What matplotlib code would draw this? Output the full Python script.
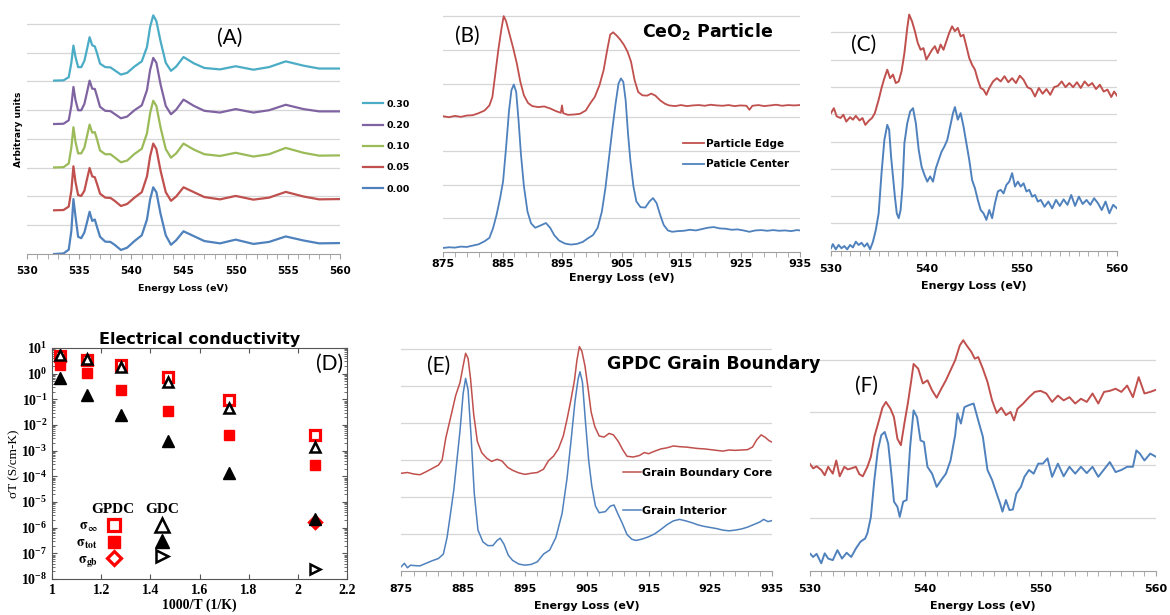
import matplotlib
matplotlib.use('Agg')
import matplotlib.pyplot as plt
from matplotlib.ticker import MultipleLocator, LogLocator, NullFormatter

plt.rcParams['font.family'] = ['DejaVu Sans']
plt.rcParams['font.weight'] = 'bold'
plt.rcParams['axes.labelweight'] = 'bold'
plt.rcParams['mathtext.fontset'] = 'stix'

RED = '#c0504d'
BLUE = '#4f81bd'
GREEN = '#9bbb59'
PURPLE = '#8064a2'
CYAN = '#4bacc6'

# ---------------- (A) O K-edge, doping series ----------------
a_energy = [532.6, 533.5, 534.0, 534.25, 534.45, 534.65, 534.9, 535.2, 535.5, 535.75,
            536.0, 536.25, 536.5, 536.7, 537.0, 537.5, 538.0, 538.4, 539.0, 539.6,
            540.3, 541.0, 541.5, 541.8, 542.1, 542.4, 542.8, 543.3, 543.8, 544.3,
            545.0, 546.0, 547.0, 548.5, 550.0, 551.7, 553.2, 554.8, 556.5, 558.0, 560.0]
a_000 = [0.0, 0.02, 0.15, 0.8, 1.91, 1.3, 0.6, 0.55, 0.75, 1.1,
         1.47, 1.15, 1.2, 0.95, 0.6, 0.43, 0.42, 0.32, 0.14, 0.22,
         0.45, 0.65, 1.2, 1.9, 2.32, 2.15, 1.4, 0.65, 0.32, 0.48,
         0.79, 0.62, 0.45, 0.37, 0.5, 0.35, 0.42, 0.61, 0.47, 0.37, 0.38]
a_005 = [1.52, 1.53, 1.65, 2.2, 3.05, 2.5, 2.05, 2.02, 2.2, 2.6,
         2.99, 2.7, 2.67, 2.45, 2.1, 1.96, 1.95, 1.85, 1.67, 1.74,
         1.96, 2.15, 2.7, 3.4, 3.84, 3.65, 2.9, 2.15, 1.85, 2.0,
         2.32, 2.15, 1.98, 1.9, 2.02, 1.89, 1.96, 2.16, 2.0, 1.9, 1.91]
a_010 = [3.01, 3.02, 3.15, 3.7, 4.41, 3.9, 3.5, 3.5, 3.7, 4.1,
         4.5, 4.22, 4.24, 4.0, 3.6, 3.47, 3.47, 3.36, 3.19, 3.25,
         3.48, 3.66, 4.2, 4.9, 5.33, 5.15, 4.4, 3.65, 3.35, 3.5,
         3.84, 3.63, 3.47, 3.41, 3.52, 3.39, 3.47, 3.69, 3.52, 3.42, 3.43]
a_020 = [4.52, 4.53, 4.65, 5.15, 5.81, 5.35, 5.0, 5.0, 5.22, 5.62,
         6.03, 5.75, 5.74, 5.5, 5.12, 4.98, 4.97, 4.87, 4.72, 4.78,
         5.0, 5.17, 5.7, 6.4, 6.82, 6.65, 5.9, 5.15, 4.86, 5.02,
         5.37, 5.15, 4.98, 4.92, 5.04, 4.92, 5.0, 5.19, 5.04, 4.96, 4.96]
a_030 = [6.03, 6.04, 6.15, 6.65, 7.25, 6.85, 6.5, 6.5, 6.72, 7.12,
         7.54, 7.26, 7.22, 7.0, 6.62, 6.5, 6.49, 6.39, 6.24, 6.3,
         6.52, 6.7, 7.2, 7.9, 8.3, 8.1, 7.4, 6.65, 6.37, 6.52,
         6.85, 6.63, 6.47, 6.42, 6.53, 6.41, 6.5, 6.7, 6.55, 6.45, 6.45]
a_labels = ['0.00', '0.05', '0.10', '0.20', '0.30']

# ---------------- (B) Ce M-edge, CeO2 particle ----------------
b_edge = [(875, 4.03), (876, 4.0), (877, 4.04), (878, 4.01), (879, 4.05), (880, 4.06),
          (881, 4.12), (882, 4.2), (882.8, 4.35), (883.3, 4.6), (883.8, 5.3), (884.3, 6.0),
          (884.8, 6.6), (885.2, 7.0), (885.6, 6.85), (886.2, 6.45), (886.8, 6.05),
          (887.4, 5.6), (888, 5.05), (888.6, 4.65), (889.3, 4.42), (890, 4.33), (891, 4.3),
          (892, 4.32), (893, 4.26), (894, 4.18), (894.8, 4.13), (895, 4.35), (895.2, 4.12),
          (896, 4.07), (897, 4.08), (898, 4.1), (899, 4.2), (899.7, 4.4), (900.5, 4.6),
          (901.3, 4.95), (902, 5.4), (902.6, 6.0), (903.1, 6.45), (903.6, 6.52),
          (904.2, 6.42), (904.8, 6.3), (905.4, 6.15), (906, 5.95), (906.6, 5.65),
          (907.2, 5.1), (907.8, 4.75), (908.5, 4.65), (909.3, 4.64), (910, 4.7),
          (910.7, 4.64), (911.5, 4.5), (912.3, 4.4), (913, 4.35), (914, 4.33), (915, 4.36),
          (916, 4.33), (917, 4.35), (918, 4.36), (919, 4.34), (920, 4.37), (921, 4.35),
          (922, 4.34), (923, 4.36), (924, 4.33), (925, 4.35), (926, 4.34), (926.5, 4.22),
          (927, 4.34), (928, 4.36), (929, 4.33), (930, 4.35), (931, 4.37), (932, 4.34),
          (933, 4.36), (934, 4.35), (935, 4.36)]
b_center = [(875, 0.12), (876, 0.14), (877, 0.13), (878, 0.16), (879, 0.15), (880, 0.19),
            (881, 0.23), (882, 0.32), (882.8, 0.42), (883.4, 0.7), (884, 1.1), (884.6, 1.6),
            (885.1, 2.1), (885.6, 3.1), (886.1, 4.2), (886.5, 4.8), (886.9, 4.97),
            (887.3, 4.75), (887.7, 3.9), (888.1, 2.9), (888.6, 1.95), (889.2, 1.2),
            (889.8, 0.85), (890.5, 0.72), (891.3, 0.78), (892.3, 0.86), (893, 0.72),
            (893.7, 0.5), (894.5, 0.34), (895.5, 0.25), (896.5, 0.22), (897.5, 0.24),
            (898.5, 0.3), (899.3, 0.4), (900.2, 0.5), (901, 0.72), (901.7, 1.2), (902.3, 1.9),
            (902.9, 2.8), (903.5, 3.7), (904, 4.4), (904.5, 5.0), (904.9, 5.15), (905.3, 5.05),
            (905.7, 4.5), (906.1, 3.5), (906.5, 2.7), (907, 1.95), (907.5, 1.5), (908.2, 1.33),
            (909, 1.32), (909.7, 1.5), (910.3, 1.6), (910.9, 1.45), (911.5, 1.1), (912.1, 0.8),
            (912.8, 0.64), (913.5, 0.6), (914.5, 0.62), (915.5, 0.63), (916.5, 0.66),
            (917.5, 0.64), (918.5, 0.68), (919.5, 0.72), (920.5, 0.74), (921.5, 0.7),
            (922.5, 0.69), (923.5, 0.66), (924.5, 0.67), (925.5, 0.64), (926.5, 0.6),
            (927.5, 0.64), (928.5, 0.65), (929.5, 0.63), (930.5, 0.65), (931.5, 0.63),
            (932.5, 0.64), (933.5, 0.62), (934.5, 0.65), (935, 0.64)]

# ---------------- (C) O K-edge, CeO2 particle ----------------
c_edge = [(530.0, 5.04), (530.3, 5.22), (530.6, 4.92), (531.0, 4.86), (531.3, 4.98),
          (531.6, 4.73), (532.0, 4.89), (532.3, 4.8), (532.6, 4.94), (533.0, 4.77),
          (533.3, 4.86), (533.6, 4.61), (534.0, 4.77), (534.3, 4.86), (534.6, 5.04),
          (535.0, 5.53), (535.3, 5.96), (535.6, 6.32), (535.9, 6.63), (536.2, 6.32),
          (536.5, 6.45), (536.8, 6.14), (537.1, 6.2), (537.4, 6.57), (537.7, 7.24),
          (538.0, 8.16), (538.2, 8.65), (538.5, 8.4), (538.8, 8.04), (539.1, 7.61),
          (539.4, 7.36), (539.7, 7.42), (540.0, 7.0), (540.3, 7.18), (540.6, 7.36),
          (540.9, 7.49), (541.2, 7.24), (541.5, 7.55), (541.8, 7.36), (542.1, 7.67),
          (542.4, 7.98), (542.7, 8.22), (543.0, 8.04), (543.3, 8.16), (543.6, 7.85),
          (543.9, 7.91), (544.2, 7.49), (544.5, 7.06), (544.8, 6.81), (545.1, 6.63),
          (545.4, 6.26), (545.7, 5.96), (546.0, 5.9), (546.3, 5.71), (546.6, 5.96),
          (547.0, 6.2), (547.4, 6.32), (547.8, 6.2), (548.2, 6.39), (548.6, 6.17),
          (549.0, 6.32), (549.4, 6.14), (549.8, 6.41), (550.2, 6.26), (550.6, 5.99),
          (551.0, 5.92), (551.4, 5.65), (551.8, 5.96), (552.2, 5.75), (552.6, 5.92),
          (553.0, 5.71), (553.4, 5.99), (553.8, 6.04), (554.2, 6.2), (554.6, 5.99),
          (555.0, 6.14), (555.4, 5.99), (555.8, 6.17), (556.2, 5.96), (556.6, 6.2),
          (557.0, 6.04), (557.4, 6.14), (557.8, 5.92), (558.2, 6.08), (558.6, 5.83),
          (559.0, 5.9), (559.4, 5.63), (559.7, 5.83), (560.0, 5.68)]
c_center = [(530.0, 0.09), (530.2, 0.24), (530.5, 0.05), (530.8, 0.21), (531.1, 0.09),
            (531.4, 0.17), (531.7, 0.05), (532.0, 0.21), (532.3, 0.12), (532.6, 0.33),
            (532.9, 0.21), (533.2, 0.29), (533.5, 0.15), (533.8, 0.27), (534.1, 0.05),
            (534.4, 0.33), (534.7, 0.76), (535.0, 1.37), (535.3, 2.84), (535.6, 4.06),
            (535.9, 4.61), (536.1, 4.43), (536.3, 3.45), (536.5, 2.72), (536.7, 1.98),
            (536.9, 1.37), (537.1, 1.19), (537.3, 1.49), (537.5, 2.35), (537.7, 3.94),
            (538.0, 4.67), (538.3, 5.1), (538.6, 5.22), (538.9, 4.67), (539.2, 3.69),
            (539.5, 3.08), (539.8, 2.78), (540.1, 2.53), (540.4, 2.72), (540.7, 2.53),
            (541.0, 3.02), (541.3, 3.33), (541.6, 3.63), (541.9, 3.82), (542.2, 4.06),
            (542.5, 4.55), (542.8, 5.04), (543.0, 5.26), (543.3, 4.8), (543.6, 5.04),
            (543.9, 4.55), (544.2, 3.94), (544.5, 3.33), (544.8, 2.59), (545.1, 2.29),
            (545.4, 1.86), (545.7, 1.49), (546.0, 1.37), (546.3, 1.13), (546.6, 1.49),
            (546.9, 1.19), (547.2, 1.74), (547.5, 2.17), (547.8, 2.23), (548.1, 2.1),
            (548.4, 2.41), (548.7, 2.53), (549.0, 2.84), (549.3, 2.35), (549.6, 2.53),
            (549.9, 2.35), (550.2, 2.47), (550.5, 2.17), (550.8, 2.23), (551.1, 1.98),
            (551.4, 2.04), (551.7, 1.8), (552.0, 1.86), (552.4, 1.61), (552.8, 1.8),
            (553.2, 1.55), (553.6, 1.86), (554.0, 1.64), (554.4, 1.88), (554.8, 1.68),
            (555.2, 2.04), (555.6, 1.64), (556.0, 1.98), (556.4, 1.71), (556.8, 1.86),
            (557.2, 1.68), (557.6, 1.92), (558.0, 1.74), (558.4, 1.49), (558.8, 1.8),
            (559.2, 1.37), (559.6, 1.68), (560.0, 1.55)]

# ---------------- (D) conductivity ----------------
inv_t = [1.03, 1.14, 1.28, 1.47, 1.72, 2.07]
gpdc_inf = [4.9, 3.4, 2.2, 0.72, 0.095, 0.0041]
gpdc_tot = [2.2, 1.04, 0.23, 0.036, 0.0041, 0.00028]
gdc_inf = [5.4, 3.7, 1.9, 0.49, 0.048, 0.00145]
gdc_tot = [0.69, 0.148, 0.0245, 0.0024, 0.000132, 2.1e-6]
gb_t = [2.07]
gpdc_gb = [1.66e-6]
gdc_gb = [2.45e-8]

# ---------------- (E) Ce M-edge, grain boundary ----------------
e_core = [(875, 2.64), (876, 2.66), (877, 2.62), (878, 2.6), (879, 2.68), (880, 2.77),
          (881, 2.86), (881.6, 3.0), (882.2, 3.6), (883, 4.17), (883.8, 4.75), (884.5, 5.1),
          (885, 5.55), (885.4, 5.89), (885.8, 5.75), (886.2, 5.2), (886.7, 4.25),
          (887.3, 3.5), (888, 3.2), (888.8, 3.05), (889.6, 2.96), (890.5, 3.02),
          (891.3, 2.97), (892.2, 2.8), (893, 2.72), (894, 2.65), (895, 2.61), (896, 2.64),
          (897, 2.66), (898, 2.75), (898.8, 2.98), (899.6, 3.1), (900.4, 3.3), (901.2, 3.65),
          (901.8, 4.1), (902.4, 4.6), (903, 5.15), (903.4, 5.7), (903.8, 6.07), (904.2, 5.95),
          (904.7, 5.55), (905.2, 4.95), (905.7, 4.3), (906.3, 3.9), (907, 3.65),
          (907.8, 3.62), (908.6, 3.72), (909.3, 3.68), (910.1, 3.5), (910.8, 3.28),
          (911.5, 3.1), (912.5, 3.08), (913.5, 3.12), (914.3, 3.2), (915, 3.17), (916, 3.24),
          (917, 3.3), (918, 3.33), (919, 3.38), (920, 3.36), (921, 3.35), (922, 3.33),
          (923, 3.31), (924, 3.3), (925, 3.28), (926, 3.26), (927, 3.24), (928, 3.27),
          (929, 3.26), (930, 3.27), (931, 3.28), (931.8, 3.35), (932.5, 3.55),
          (933.2, 3.68), (933.8, 3.62), (934.5, 3.52), (935, 3.48)]
e_interior = [(875, 0.11), (875.5, 0.2), (876, 0.08), (876.5, 0.15), (877, 0.14), (878, 0.13),
              (879, 0.2), (880, 0.27), (881, 0.33), (881.8, 0.45), (882.4, 0.9), (883, 1.6),
              (883.5, 2.2), (884, 3.0), (884.5, 3.8), (885, 4.8), (885.4, 5.21), (885.8, 4.9),
              (886.3, 3.6), (886.8, 2.1), (887.4, 1.1), (888.2, 0.78), (889, 0.68),
              (889.8, 0.68), (890.5, 0.82), (891, 0.88), (891.6, 0.72), (892.3, 0.42),
              (893, 0.28), (894, 0.18), (895, 0.15), (896, 0.17), (897, 0.24), (898, 0.45),
              (899, 0.56), (900, 0.9), (901, 1.55), (901.8, 2.5), (902.5, 3.6), (903.1, 4.6),
              (903.6, 5.2), (903.9, 5.39), (904.3, 5.1), (904.8, 4.0), (905.3, 3.0),
              (905.8, 2.3), (906.4, 1.75), (907, 1.57), (908, 1.6), (908.8, 1.75),
              (909.4, 1.78), (910, 1.55), (910.7, 1.3), (911.5, 0.98), (912.3, 0.85),
              (913, 0.82), (914, 0.86), (915, 0.92), (916, 1.0), (917, 1.12), (918, 1.25),
              (919, 1.35), (920, 1.39), (921, 1.35), (922, 1.3), (923, 1.24), (924, 1.2),
              (925, 1.17), (926, 1.14), (927, 1.1), (928, 1.08), (929, 1.1), (930, 1.13),
              (931, 1.18), (932, 1.25), (933, 1.32), (933.6, 1.39), (934.3, 1.33), (935, 1.36)]

# ---------------- (F) O K-edge, grain boundary ----------------
f_core = [(530.0, 2.03), (530.3, 1.94), (530.6, 1.98), (531.0, 1.91), (531.3, 1.81),
          (531.6, 1.97), (532.0, 1.84), (532.3, 2.09), (532.6, 1.79), (533.0, 1.97),
          (533.3, 1.92), (533.6, 1.94), (534.0, 1.97), (534.3, 1.83), (534.6, 1.79),
          (535.0, 1.97), (535.3, 2.16), (535.6, 2.54), (536.0, 2.85), (536.3, 3.09),
          (536.6, 3.2), (537.0, 3.07), (537.3, 2.91), (537.6, 2.5), (537.9, 2.38),
          (538.2, 2.79), (538.5, 3.17), (538.8, 3.61), (539.0, 3.92), (539.4, 3.83),
          (539.8, 3.55), (540.2, 3.61), (540.6, 3.42), (541.0, 3.28), (541.4, 3.45),
          (541.8, 3.61), (542.2, 3.8), (542.6, 3.99), (543.0, 4.27), (543.3, 4.37),
          (543.6, 4.27), (544.0, 4.15), (544.3, 4.02), (544.6, 4.05), (545.0, 3.83),
          (545.4, 3.58), (545.8, 3.23), (546.2, 2.99), (546.6, 3.09), (547.0, 2.95),
          (547.4, 3.01), (547.7, 2.85), (548.0, 3.07), (548.5, 3.17), (549.0, 3.29),
          (549.5, 3.39), (550.0, 3.41), (550.5, 3.36), (551.0, 3.2), (551.5, 3.32),
          (552.0, 3.23), (552.5, 3.29), (553.0, 3.17), (553.5, 3.26), (554.0, 3.2),
          (554.5, 3.36), (555.0, 3.17), (555.5, 3.39), (556.0, 3.41), (556.5, 3.45),
          (557.0, 3.39), (557.5, 3.51), (558.0, 3.29), (558.5, 3.67), (559.0, 3.36),
          (559.5, 3.39), (560.0, 3.43)]
f_interior = [(530.0, 0.33), (530.3, 0.26), (530.6, 0.32), (531.0, 0.14), (531.3, 0.33),
              (531.6, 0.23), (532.0, 0.2), (532.4, 0.39), (532.8, 0.23), (533.2, 0.34),
              (533.6, 0.26), (534.0, 0.42), (534.4, 0.55), (534.8, 0.61), (535.0, 0.71),
              (535.3, 1.02), (535.6, 1.72), (535.9, 2.28), (536.2, 2.57), (536.5, 2.63),
              (536.8, 2.41), (537.1, 1.78), (537.3, 1.31), (537.6, 1.21), (537.8, 1.02),
              (538.1, 1.31), (538.4, 1.34), (538.7, 2.35), (539.0, 3.04), (539.3, 2.91),
              (539.6, 2.47), (539.9, 2.44), (540.2, 1.97), (540.6, 1.84), (541.0, 1.59),
              (541.4, 1.72), (541.8, 1.84), (542.2, 2.09), (542.6, 2.57), (542.8, 2.98),
              (543.1, 2.79), (543.4, 3.1), (543.8, 3.14), (544.2, 3.17), (544.6, 2.85),
              (545.0, 2.54), (545.4, 1.91), (545.8, 1.72), (546.2, 1.46), (546.5, 1.27),
              (546.7, 1.12), (547.0, 1.34), (547.3, 1.15), (547.6, 1.16), (547.9, 1.46),
              (548.3, 1.59), (548.6, 1.78), (549.0, 1.91), (549.4, 1.84), (549.8, 2.03),
              (550.2, 2.03), (550.6, 2.13), (551.0, 1.78), (551.5, 2.03), (552.0, 1.79),
              (552.5, 1.97), (553.0, 1.84), (553.5, 1.97), (554.0, 1.85), (554.5, 1.97),
              (555.0, 1.78), (555.5, 1.92), (556.0, 2.06), (556.5, 1.87), (557.0, 1.91),
              (557.5, 1.97), (558.0, 1.97), (558.3, 2.28), (558.6, 2.22), (559.0, 2.09),
              (559.5, 2.22), (560.0, 2.16)]

W, H = 1170, 615


def rect(left, top, right, bottom):
    # pixel box -> figure fraction
    return [left / W, 1 - bottom / H, (right - left) / W, (bottom - top) / H]


def spectrum_axes(fig, box, xlim, ytop, ngrid, major, minor, pad, labelpad, size=8):
    ax = fig.add_axes(rect(*box))
    ax.set_xlim(*xlim)
    ax.set_ylim(0, ytop)
    for s in ('left', 'right', 'top'):
        ax.spines[s].set_visible(False)
    ax.spines['bottom'].set_color('#a0a0a0')
    ax.set_yticks(range(1, ngrid + 1))
    ax.yaxis.grid(True, color='#d6d6d6', lw=0.9)
    ax.tick_params(axis='y', length=0, labelleft=False)
    # ticks start at the left limit (875 or 530)
    ax.xaxis.set_major_locator(MultipleLocator(major, offset=xlim[0] % major))
    ax.xaxis.set_minor_locator(MultipleLocator(minor, offset=xlim[0] % minor))
    ax.tick_params(axis='x', which='both', direction='out', length=3.5,
                   color='#a0a0a0', labelsize=size, pad=pad)
    ax.set_xlabel('Energy Loss (eV)', fontsize=size, labelpad=labelpad)
    ax.set_axisbelow(True)
    ax.patch.set_alpha(0)
    return ax


def xy(pairs):
    return [p[0] for p in pairs], [p[1] for p in pairs]


fig = plt.figure(figsize=(W / 100, H / 100), dpi=100)

# (A)
ax_a = spectrum_axes(fig, (27, 5, 340, 254), (530, 560), 8.66, 8, 5, 1, 5, 6, size=7.5)
series_a = [a_000, a_005, a_010, a_020, a_030]
colors_a = [BLUE, RED, GREEN, PURPLE, CYAN]
handles_a = []
for vals, col, lab in zip(series_a, colors_a, a_labels):
    h, = ax_a.plot(a_energy, vals, color=col, lw=1.6, label=lab)
    handles_a.append(h)
ax_a.set_ylabel('Arbitrary units', fontsize=6.5, labelpad=3)
ax_a.xaxis.label.set_fontsize(6.8)
ax_a.legend(handles_a[::-1], a_labels[::-1], loc='upper left', bbox_to_anchor=(1.06, 0.635),
            frameon=False, fontsize=6.8, handlelength=2.2, handletextpad=0.3,
            labelspacing=1.3, borderaxespad=0)

# (B)
ax_b = spectrum_axes(fig, (443, 5, 800, 252), (875, 935), 7.33, 7, 10, 2, 1.5, 3)
x, y = xy(b_edge)
ax_b.plot(x, y, color=RED, lw=1.3, label='Particle Edge')
x, y = xy(b_center)
ax_b.plot(x, y, color=BLUE, lw=1.3, label='Paticle Center')
ax_b.legend(loc='upper left', bbox_to_anchor=(0.66, 0.475), frameon=False, fontsize=7.5,
            handlelength=2.0, handletextpad=0.25, labelspacing=1.0, borderaxespad=0)

# (C)
ax_c = spectrum_axes(fig, (831, 5, 1117, 250.7), (530, 560), 9.0, 8, 10, 1, 6, 5)
x, y = xy(c_edge)
ax_c.plot(x, y, color=RED, lw=1.4)
x, y = xy(c_center)
ax_c.plot(x, y, color=BLUE, lw=1.4)

# (E)
ax_e = spectrum_axes(fig, (401.3, 340, 772.3, 570.7), (875, 935), 6.25, 6, 10, 2, 6, 5)
x, y = xy(e_core)
ax_e.plot(x, y, color=RED, lw=1.1, label='Grain Boundary Core')
x, y = xy(e_interior)
ax_e.plot(x, y, color=BLUE, lw=1.1, label='Grain Interior')
ax_e.legend(loc='upper left', bbox_to_anchor=(0.585, 0.465), frameon=False, fontsize=8,
            handlelength=1.6, handletextpad=0.1, labelspacing=2.5, borderaxespad=0)

# (F)
ax_f = spectrum_axes(fig, (809.7, 336, 1156, 570.7), (530, 560), 4.45, 4, 10, 1, 6, 5)
x, y = xy(f_core)
ax_f.plot(x, y, color=RED, lw=1.4)
x, y = xy(f_interior)
ax_f.plot(x, y, color=BLUE, lw=1.4)

# (D)
SERIF = 'Liberation Serif'
ax_d = fig.add_axes(rect(52.3, 348, 346.7, 579))
ax_d.set_yscale('log')
ax_d.set_xlim(1, 2.2)
ax_d.set_ylim(1e-8, 1e1)
h_pi, = ax_d.plot(inv_t, gpdc_inf, 's', ms=6.5, mfc='white', mec='red', mew=2.3, ls='none')
h_pt, = ax_d.plot(inv_t, gpdc_tot, 's', ms=7, color='red', ls='none')
h_pg, = ax_d.plot(gb_t, gpdc_gb, 'D', ms=6, mfc='white', mec='red', mew=2.3, ls='none')
h_gi, = ax_d.plot(inv_t, gdc_inf, '^', ms=7.5, mfc='white', mec='black', mew=1.8, ls='none')
h_gt, = ax_d.plot(inv_t, gdc_tot, '^', ms=8, color='black', ls='none')
h_gg, = ax_d.plot(gb_t, gdc_gb, '>', ms=7, mfc='white', mec='black', mew=1.8, ls='none')
ax_d.set_xticks([1, 1.2, 1.4, 1.6, 1.8, 2, 2.2],
                labels=['1', '1.2', '1.4', '1.6', '1.8', '2', '2.2'])
ax_d.yaxis.set_major_locator(LogLocator(base=10, numticks=12))
ax_d.yaxis.set_minor_locator(LogLocator(base=10, subs=range(2, 10), numticks=12))
ax_d.yaxis.set_minor_formatter(NullFormatter())
ax_d.tick_params(which='both', direction='in', top=True, right=True,
                 labelsize=10, labelfontfamily=SERIF, color='#555555')
ax_d.tick_params(which='minor', length=2)
ax_d.set_xlabel('1000/T (1/K)', fontsize=10, family=SERIF, labelpad=1)
ax_d.set_ylabel('σT (S/cm-K)', fontsize=9.5, family=SERIF, fontweight='normal', labelpad=1)
ax_d.set_title('Electrical conductivity', fontsize=11.5, fontweight='bold', pad=3)
for s in ax_d.spines.values():
    s.set_color('#555555')
ax_d.legend([h_pi, h_pt, h_pg, h_gi, h_gt, h_gg],
            [r'$\mathbf{\sigma_{\infty}}$', r'$\mathbf{\sigma_{tot}}$', r'$\mathbf{\sigma_{gb}}$',
             '', '', ''],
            ncol=2, markerfirst=False, frameon=False, fontsize=10, markerscale=1.25,
            loc='upper left', bbox_to_anchor=(0.062, 0.285), borderaxespad=0,
            handlelength=1.2, handletextpad=0.6, columnspacing=1.6, labelspacing=0.12)
ax_d.text(0.206, 0.30, 'GPDC', transform=ax_d.transAxes, ha='center', va='center',
          family=SERIF, fontsize=11)
ax_d.text(0.373, 0.30, 'GDC', transform=ax_d.transAxes, ha='center', va='center',
          family=SERIF, fontsize=11)

# panel titles and letters
fig.text(708 / W, 1 - 32 / H, r'$\mathdefault{CeO_2}$ Particle', ha='center', va='center',
         fontsize=12.5)
fig.text(607 / W, 1 - 364 / H, 'GPDC Grain Boundary', ha='left', va='center', fontsize=12.5)
letters = [('(A)', 230, 38), ('(B)', 467, 36), ('(C)', 864, 45),
           ('(D)', 330, 364), ('(E)', 439, 366), ('(F)', 866, 386)]
for txt, px, py in letters:
    fig.text(px / W, 1 - py / H, txt, ha='center', va='center', fontsize=15,
             family='Lato', fontweight='normal')

fig.savefig('out.png', dpi=100)
